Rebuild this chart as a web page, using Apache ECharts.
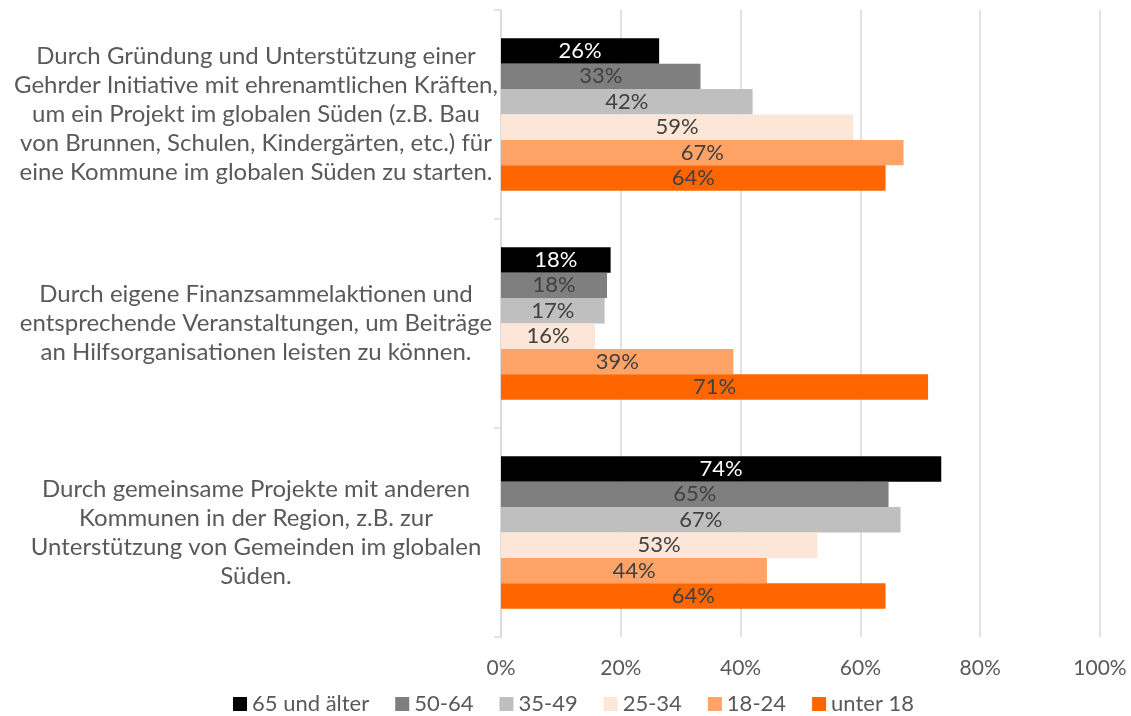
<!DOCTYPE html>
<html>
<head>
<meta charset="utf-8">
<script src="https://cdn.jsdelivr.net/npm/echarts@6/dist/echarts.min.js"></script>
<style>
html,body{margin:0;padding:0;background:#fff;}
#chart{width:1131px;height:716px;}
</style>
</head>
<body>
<div id="chart"></div>
<script>
const categories = [
  "Durch Gründung und Unterstützung einer\nGehrder Initiative mit ehrenamtlichen Kräften,\num ein Projekt im globalen Süden (z.B. Bau\nvon Brunnen, Schulen, Kindergärten, etc.) für\neine Kommune im globalen Süden zu starten.",
  "Durch eigene Finanzsammelaktionen und\nentsprechende Veranstaltungen, um Beiträge\nan Hilfsorganisationen leisten zu können.",
  "Durch gemeinsame Projekte mit anderen\nKommunen in der Region, z.B. zur\nUnterstützung von Gemeinden im globalen\nSüden."
];
const seriesNames = ["65 und älter", "50-64", "35-49", "25-34", "18-24", "unter 18"];
const v65plus = [26.4, 18.3, 73.5];
const v50_64 = [33.3, 17.7, 64.7];
const v35_49 = [42.0, 17.3, 66.7];
const v25_34 = [58.8, 15.7, 52.8];
const v18_24 = [67.2, 38.8, 44.4];
const vUnder18 = [64.2, 71.3, 64.2];
const xTicks = [0, 20, 40, 60, 80, 100];

const values = [v65plus, v50_64, v35_49, v25_34, v18_24, vUnder18];
const colors = ["#000000", "#7f7f7f", "#bfbfbf", "#fce6d8", "#ffa366", "#ff6600"];
const labelColors = ["#ffffff", "#404040", "#404040", "#404040", "#404040", "#404040"];
const FONT = "Lato";

const chart = echarts.init(document.getElementById('chart'), null, {renderer: 'canvas'});
chart.setOption({
  animation: false,
  textStyle: {fontFamily: FONT},
  grid: {left: 501, right: 31, top: 10, bottom: 79, containLabel: false},
  legend: {
    top: 693,
    left: 233,
    data: seriesNames,
    icon: 'rect',
    itemWidth: 14,
    itemHeight: 14,
    itemGap: 26,
    padding: 0,
    textStyle: {fontFamily: FONT, fontSize: 22, color: '#595959'}
  },
  xAxis: {
    type: 'value',
    min: xTicks[0],
    max: xTicks[xTicks.length - 1],
    interval: 20,
    axisLine: {show: false},
    axisTick: {show: false},
    splitLine: {show: true, lineStyle: {color: '#d9d9d9', width: 1.5}},
    axisLabel: {formatter: '{value}%', fontFamily: FONT, fontSize: 21, color: '#595959', margin: 21}
  },
  yAxis: {
    type: 'category',
    inverse: true,
    data: categories,
    axisLine: {show: true, lineStyle: {color: '#d9d9d9', width: 1.5}},
    axisTick: {show: true, length: 7, lineStyle: {color: '#d9d9d9', width: 1.5}},
    axisLabel: {align: 'center', margin: 245, fontFamily: FONT, fontSize: 24, lineHeight: 29, color: '#595959'}
  },
  series: seriesNames.map((name, i) => ({
    name: name,
    type: 'bar',
    data: values[i],
    barGap: '0%',
    barCategoryGap: '27%',
    itemStyle: {color: colors[i]},
    label: {
      show: true,
      position: 'inside',
      formatter: p => Math.round(p.value) + '%',
      fontFamily: FONT,
      fontSize: 22,
      color: labelColors[i]
    }
  }))
});
</script>
</body>
</html>
